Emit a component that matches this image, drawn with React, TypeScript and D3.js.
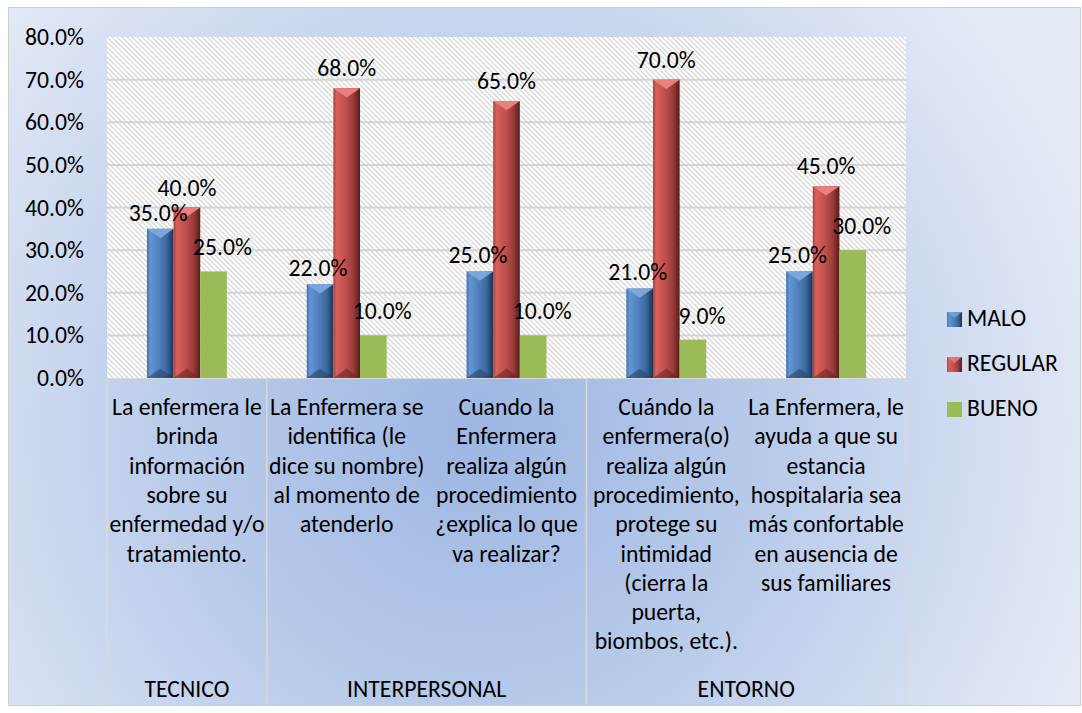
import React from "react"
import * as d3 from "d3"

const categoryLines: string[][] = [
  ["La enfermera le", "brinda", "información", "sobre su", "enfermedad y/o", "tratamiento."],
  ["La Enfermera se", "identifica (le", "dice su nombre)", "al momento de", "atenderlo"],
  ["Cuando la", "Enfermera", "realiza algún", "procedimiento", "¿explica lo que", "va realizar?"],
  ["Cuándo la", "enfermera(o)", "realiza algún", "procedimiento,", "protege su", "intimidad", "(cierra la", "puerta,", "biombos, etc.)."],
  ["La Enfermera, le", "ayuda a que su", "estancia", "hospitalaria sea", "más confortable", "en ausencia de", "sus familiares"],
]
const groupNames = ["TECNICO", "INTERPERSONAL", "ENTORNO"]
const groupSpans = [1, 2, 2]

const seriesNames = ["MALO", "REGULAR", "BUENO"]
const malo = [0.35, 0.22, 0.25, 0.21, 0.25]
const regular = [0.4, 0.68, 0.65, 0.7, 0.45]
const bueno = [0.25, 0.1, 0.1, 0.09, 0.3]
const yTicks = [0, 0.1, 0.2, 0.3, 0.4, 0.5, 0.6, 0.7, 0.8]

const FONT = "Carlito, Calibri, Lato, sans-serif"
const FS = 23.7
const W = 1082
const H = 713
const plot = { left: 107, right: 906, top: 37, bottom: 378 }

// colour + bevel style per series, dx/dy = label offset
const styles = [
  { fill: "#4f81bd", grad: "gMalo", light: "#7ba6dc", dark: "#24436b", bevel: true, dx: -2, dy: 8 },
  { fill: "#c0504d", grad: "gRegular", light: "#e8817e", dark: "#6e2523", bevel: true, dx: 0, dy: 12 },
  { fill: "#9bbb59", grad: "", light: "", dark: "", bevel: false, dx: 9, dy: 16 },
]

export default function App() {
  const catIdx = d3.range(categoryLines.length)
  const x = d3.scaleBand<number>().domain(catIdx).range([plot.left, plot.right]).padding(0)
  const bw = x.bandwidth()
  const xs = d3.scaleBand<number>().domain([0, 1, 2]).range([bw * 0.25, bw * 0.75])
  const y = d3.scaleLinear().domain([0, 0.8]).range([plot.bottom, plot.top])
  const fmt = d3.format(".1%")
  const values = [malo, regular, bueno]

  // group boundaries along the category axis
  const groupStarts: number[] = []
  let acc = 0
  groupSpans.forEach(s => {
    groupStarts.push(acc)
    acc += s
  })

  return (
    <svg
      width={W}
      height={H}
      style={{ position: "absolute", left: 0, top: 0, fontFamily: FONT }}
    >
      <defs>
        <radialGradient id="bg" gradientUnits="userSpaceOnUse" cx={480} cy={430} r={640}>
          <stop offset="0" stopColor="#9db6e2" />
          <stop offset="0.5" stopColor="#bccdeb" />
          <stop offset="1" stopColor="#e4eaf6" />
        </radialGradient>
        <pattern id="hatch" width={5} height={5} patternUnits="userSpaceOnUse">
          <rect width={5} height={5} fill="#ffffff" />
          <path d="M-1,-1 L6,6 M-1,4 L1,6 M4,-1 L6,1" stroke="#d8d8d8" strokeWidth={1.3} />
        </pattern>
        <linearGradient id="gMalo" x1="0" x2="1" y1="0" y2="0">
          <stop offset="0" stopColor="#3f6fae" />
          <stop offset="0.12" stopColor="#6495d3" />
          <stop offset="0.45" stopColor="#4f81bd" />
          <stop offset="0.75" stopColor="#3c679d" />
          <stop offset="1" stopColor="#1a3252" />
        </linearGradient>
        <linearGradient id="gRegular" x1="0" x2="1" y1="0" y2="0">
          <stop offset="0" stopColor="#a9403d" />
          <stop offset="0.12" stopColor="#da605d" />
          <stop offset="0.45" stopColor="#c0504d" />
          <stop offset="0.75" stopColor="#9a3c3a" />
          <stop offset="1" stopColor="#5a1c1b" />
        </linearGradient>
      </defs>

      <rect x={8.5} y={7.5} width={1072} height={698} fill="url(#bg)" stroke="#cfcfcf" />

      {/* plot area */}
      <rect x={plot.left} y={plot.top} width={plot.right - plot.left} height={plot.bottom - plot.top} fill="url(#hatch)" />
      {yTicks.slice(1, -1).map(t => (
        <line key={t} x1={plot.left} x2={plot.right} y1={y(t)} y2={y(t)} stroke="#d4d4d4" strokeWidth={2} />
      ))}

      {/* y axis labels */}
      {yTicks.map(t => (
        <text key={t} x={84} y={y(t) + 8} textAnchor="end" fontSize={FS} fill="#000">
          {fmt(t)}
        </text>
      ))}

      {/* bars */}
      {values.map((vals, si) => {
        const st = styles[si]
        return (
          <g key={si}>
            {vals.map((v, ci) => {
              const x0 = (x(ci) as number) + (xs(si) as number)
              const w = xs.bandwidth()
              const y0 = y(v)
              const y1 = y(0)
              const tri = Math.min(w * 0.35, (y1 - y0) / 2)
              return (
                <g key={ci}>
                  <rect x={x0} y={y0} width={w} height={y1 - y0} fill={st.bevel ? `url(#${st.grad})` : st.fill} />
                  {st.bevel && (
                    <>
                      <polygon points={`${x0},${y0} ${x0 + w},${y0} ${x0 + w / 2},${y0 + tri}`} fill={st.light} />
                      <polygon points={`${x0},${y1} ${x0 + w},${y1} ${x0 + w / 2},${y1 - tri}`} fill={st.dark} opacity={0.6} />
                    </>
                  )}
                </g>
              )
            })}
          </g>
        )
      })}

      {/* x axis line + group separators */}
      <line x1={plot.left} x2={plot.right} y1={plot.bottom + 0.5} y2={plot.bottom + 0.5} stroke="#d9d9d9" />
      {[...groupStarts.map(g => x(g) as number), plot.right].map((gx, i) => (
        <line key={i} x1={gx} x2={gx} y1={plot.bottom} y2={705} stroke="#d9d9d9" strokeWidth={1.5} />
      ))}

      {/* data labels */}
      {values.map((vals, si) =>
        vals.map((v, ci) => (
          <text
            key={`${si}-${ci}`}
            x={(x(ci) as number) + (xs(si) as number) + xs.bandwidth() / 2 + styles[si].dx}
            y={y(v) - styles[si].dy}
            textAnchor="middle"
            fontSize={FS}
            fill="#000"
          >
            {fmt(v)}
          </text>
        ))
      )}

      {/* category labels */}
      {categoryLines.map((lines, ci) => (
        <text key={ci} textAnchor="middle" fontSize={FS} fill="#000">
          {lines.map((ln, li) => (
            <tspan key={li} x={(x(ci) as number) + bw / 2} y={415 + li * 29.3}>
              {ln}
            </tspan>
          ))}
        </text>
      ))}

      {/* group labels */}
      {groupNames.map((g, gi) => {
        const a = x(groupStarts[gi]) as number
        const b = a + bw * groupSpans[gi]
        return (
          <text key={g} x={(a + b) / 2} y={697} textAnchor="middle" fontSize={FS} fill="#000">
            {g}
          </text>
        )
      })}

      {/* legend */}
      {seriesNames.map((s, i) => {
        const st = styles[i]
        const ly = 312 + i * 45
        return (
          <g key={s}>
            <rect x={947} y={ly} width={15} height={15} fill={st.bevel ? `url(#${st.grad})` : st.fill} />
            {st.bevel && (
              <polygon points={`${947},${ly} ${962},${ly} ${954.5},${ly + 6}`} fill={st.light} opacity={0.8} />
            )}
            <text x={967} y={ly + 14} fontSize={FS} fill="#000">
              {s}
            </text>
          </g>
        )
      })}
    </svg>
  )
}
